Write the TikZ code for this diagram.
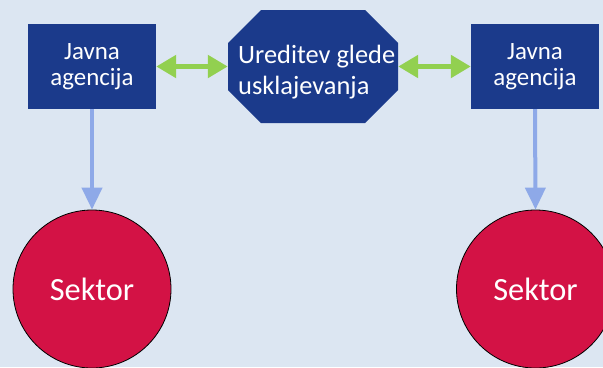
\documentclass[tikz,border=0pt]{standalone}
\usepackage{fontspec}
\setmainfont{Carlito}
\usetikzlibrary{arrows.meta}
\definecolor{bgblue}{HTML}{DCE6F2}
\definecolor{navy}{HTML}{1B3A8B}
\definecolor{crimson}{HTML}{D31245}
\definecolor{lgreen}{HTML}{92D050}
\definecolor{lblue}{HTML}{8EA9E8}
\begin{document}
\begin{tikzpicture}[x=1bp,y=-1bp,
  agency/.style={fill=navy, text=white, minimum width=128bp, minimum height=85bp, inner sep=0pt, align=center, font=\fontsize{25}{26}\selectfont},
  sector/.style={circle, fill=crimson, draw=black, line width=0.8bp, minimum size=158bp, inner sep=0pt, text=white, font=\fontsize{32.5}{36}\selectfont},
  linkarrow/.style={draw=lgreen, line width=5bp, {Triangle[width=22bp,length=20bp]}-{Triangle[width=22bp,length=20bp]}},
  downarrow/.style={draw=lblue, line width=4bp, -{Triangle[width=20bp,length=22bp]}},
  octlabel/.style={anchor=west, inner sep=0pt, text=white, align=left, font=\fontsize{26.5}{31}\selectfont},
]
\fill[bgblue] (0,0) rectangle (603,367);
\useasboundingbox (0,0) rectangle (603,367);
% octagon
\fill[navy] (261,10) -- (365,10) -- (398,43) -- (398,90) -- (365,123) -- (261,123) -- (228,90) -- (228,43) -- cycle;
\node[minimum width=170bp, minimum height=113bp, inner sep=0pt] (oct) at (313,66.5) {};
\node[octlabel] (octtext) at (238,72) {Ureditev glede\\usklajevanja};
% agencies
\node[agency] (boxL) at (92,66.5) {Javna\\agencija};
\node[agency] (boxR) at (535,66.5) {Javna\\agencija};
% sectors
\node[sector] (secL) at (92,289) {Sektor};
\node[sector] (secR) at (535.5,289) {Sektor};
% connectors
\draw[linkarrow] (boxL.east) -- (oct.west);
\draw[linkarrow] (oct.east) -- (boxR.west);
\draw[downarrow] (boxL.south) -- (secL.north);
\draw[downarrow] (boxR.south) -- (secR.north);
\end{tikzpicture}
\end{document}
